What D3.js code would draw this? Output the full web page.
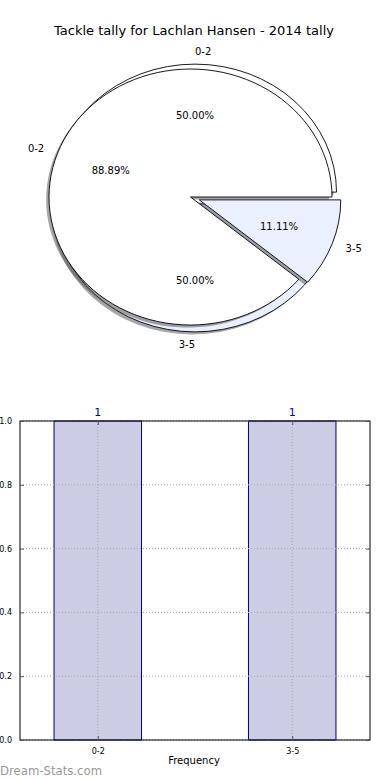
<!DOCTYPE html>
<html>
<head>
<meta charset="utf-8">
<script src="https://cdn.jsdelivr.net/npm/d3@7"></script>
<style>
body { margin:0; background:#fff; }
svg { display:block; font-family:"DejaVu Sans", sans-serif; }
</style>
</head>
<body>
<svg id="wykres" width="390" height="780"></svg>
<script>
// dane
var tytul = "Tackle tally for Lachlan Hansen - 2014 tally";
var kategorie = ["0-2", "3-5"];
var tallyLata = [8, 1];      // pie 88.89 / 11.11
var tallyMecze = [1, 1];     // pie 50 / 50
var czestosc = [1, 1];       // bars
var yTicki = [0.0, 0.2, 0.4, 0.6, 0.8, 1.0];
var kolory = ["#ffffff", "#eaf0fd"];

var svg = d3.select("#wykres");

svg.append("text")
	.attr("x", 194)
	.attr("y", 30)
	.attr("dy", "0.35em")
	.attr("text-anchor", "middle")
	.attr("font-size", 13)
	.attr("fill", "#000")
	.text(tytul);

// kolo - matplotlib zaczyna od 3 godz. i idzie przeciwnie do wskazowek
var pie = d3.pie().sort(null).startAngle(Math.PI/2).endAngle(Math.PI/2 - 2*Math.PI);
var arc = d3.arc().innerRadius(0).outerRadius(1);
var rx = 141.5, ry = 128;

function kolo(wartosci, cx, cy, explode){
	var suma = d3.sum(wartosci);
	var luki = pie(wartosci);
	var g = svg.append("g");
	luki.forEach(function(d, i){
		var mid = (d.startAngle + d.endAngle)/2;
		d.ox = cx + explode[i]*rx*Math.sin(mid);
		d.oy = cy - explode[i]*ry*Math.cos(mid);
		d.mid = mid;
		d.pct = d.value/suma*100;
	});
	// cienie
	luki.forEach(function(d){
		g.append("path")
			.attr("d", arc(d))
			.attr("transform", "translate(" + (d.ox - 0.02*rx) + "," + (d.oy + 0.02*ry) + ") scale(" + rx + "," + ry + ")")
			.attr("fill", "#4d4d4d")
			.attr("fill-opacity", 0.5)
			.attr("stroke", "none");
	});
	luki.forEach(function(d, i){
		g.append("path")
			.attr("d", arc(d))
			.attr("transform", "translate(" + d.ox + "," + d.oy + ") scale(" + rx + "," + ry + ")")
			.attr("fill", kolory[i])
			.attr("stroke", "#000")
			.attr("stroke-width", 0.9)
			.attr("vector-effect", "non-scaling-stroke")
			.attr("stroke-linejoin", "miter");
	});
	return luki;
}

function napisy(luki){
	luki.forEach(function(d, i){
		var sx = Math.sin(d.mid), sy = -Math.cos(d.mid);
		// tak jak matplotlib: znak cos kata (90 -> +, 270 -> -)
		var strona = Math.cos(Math.PI/2 - d.mid);
		svg.append("text")
			.attr("x", d.ox + 1.1*rx*sx)
			.attr("y", d.oy + 1.1*ry*sy)
			.attr("dy", "0.35em")
			.attr("text-anchor", strona > 0 ? "start" : "end")
			.attr("font-size", 10)
			.text(kategorie[i]);
		svg.append("text")
			.attr("x", d.ox + 0.6*rx*sx)
			.attr("y", d.oy + 0.6*ry*sy)
			.attr("dy", "0.35em")
			.attr("text-anchor", "middle")
			.attr("font-size", 10)
			.text(d.pct.toFixed(2) + "%");
	});
}

var drugie = kolo(tallyMecze, 195, 198, [0.046, 0.046]);
var pierwsze = kolo(tallyLata, 190.5, 197, [0, 0.066]);
napisy(drugie);
napisy(pierwsze);

// slupki
var x0 = 20, x1 = 370, y0 = 421, y1 = 740;
var x = d3.scaleLinear().domain([-0.4, 1.4]).range([x0, x1]);
var y = d3.scaleLinear().domain([0, 1]).range([y1, y0]);
var szer = 0.45;

svg.selectAll("rect.slupek")
	.data(czestosc)
	.enter()
	.append("rect")
	.attr("class", "slupek")
	.attr("x", function(d, i){ return x(i - szer/2); })
	.attr("width", x(szer) - x(0))
	.attr("y", function(d){ return y(d); })
	.attr("height", function(d){ return y(0) - y(d); })
	.attr("fill", "#ccccE5")
	.attr("stroke", "#000080")
	.attr("stroke-width", 1);

// siatka
yTicki.forEach(function(t){
	svg.append("line")
		.attr("x1", x0).attr("x2", x1)
		.attr("y1", y(t)).attr("y2", y(t))
		.attr("stroke", "#a8a8a8")
		.attr("stroke-width", 1)
		.attr("stroke-dasharray", "1,2");
});
kategorie.forEach(function(k, i){
	svg.append("line")
		.attr("x1", x(i)).attr("x2", x(i))
		.attr("y1", y0).attr("y2", y1)
		.attr("stroke", "#a8a8a8")
		.attr("stroke-width", 1)
		.attr("stroke-dasharray", "1,2");
});

// ramka
svg.append("rect")
	.attr("x", x0).attr("y", y0)
	.attr("width", x1 - x0).attr("height", y1 - y0)
	.attr("fill", "none")
	.attr("stroke", "#000")
	.attr("stroke-width", 1);

// osie z tickami do srodka
var osY = d3.axisLeft(y).tickValues(yTicki).tickFormat(d3.format(".1f")).tickSizeInner(-4).tickSizeOuter(0).tickPadding(8);
var gY = svg.append("g").attr("transform", "translate(" + x0 + ",0)").call(osY);
var osYp = d3.axisRight(y).tickValues(yTicki).tickFormat("").tickSizeInner(-4).tickSizeOuter(0);
var gYp = svg.append("g").attr("transform", "translate(" + x1 + ",0)").call(osYp);
var osX = d3.axisBottom(x).tickValues([0, 1]).tickFormat(function(d){ return kategorie[d]; }).tickSizeInner(-4).tickSizeOuter(0).tickPadding(8);
var gX = svg.append("g").attr("transform", "translate(0," + y1 + ")").call(osX);
var osXg = d3.axisTop(x).tickValues([0, 1]).tickFormat("").tickSizeInner(-4).tickSizeOuter(0);
var gXg = svg.append("g").attr("transform", "translate(0," + y0 + ")").call(osXg);
[gY, gYp, gX, gXg].forEach(function(g){
	g.select(".domain").remove();
	g.selectAll(".tick line").attr("stroke", "#555");
	g.selectAll("text").attr("font-family", "DejaVu Sans").attr("font-size", 8).attr("fill", "#000");
});

// etykiety na slupkach
svg.selectAll("text.wartosc")
	.data(czestosc)
	.enter()
	.append("text")
	.attr("class", "wartosc")
	.attr("x", function(d, i){ return x(i); })
	.attr("y", function(d){ return y(d) - 9; })
	.attr("dy", "0.35em")
	.attr("text-anchor", "middle")
	.attr("font-size", 11)
	.attr("fill", function(d, i){ return i == 0 ? "#000080" : "#0000cc"; })
	.text(function(d){ return d; });

svg.append("text")
	.attr("x", 194)
	.attr("y", 760)
	.attr("dy", "0.35em")
	.attr("text-anchor", "middle")
	.attr("font-size", 10)
	.text("Frequency");

svg.append("text")
	.attr("x", 0)
	.attr("y", 771)
	.attr("dy", "0.35em")
	.attr("font-size", 11.7)
	.attr("fill", "#999")
	.text("Dream-Stats.com");
</script>
</body>
</html>
